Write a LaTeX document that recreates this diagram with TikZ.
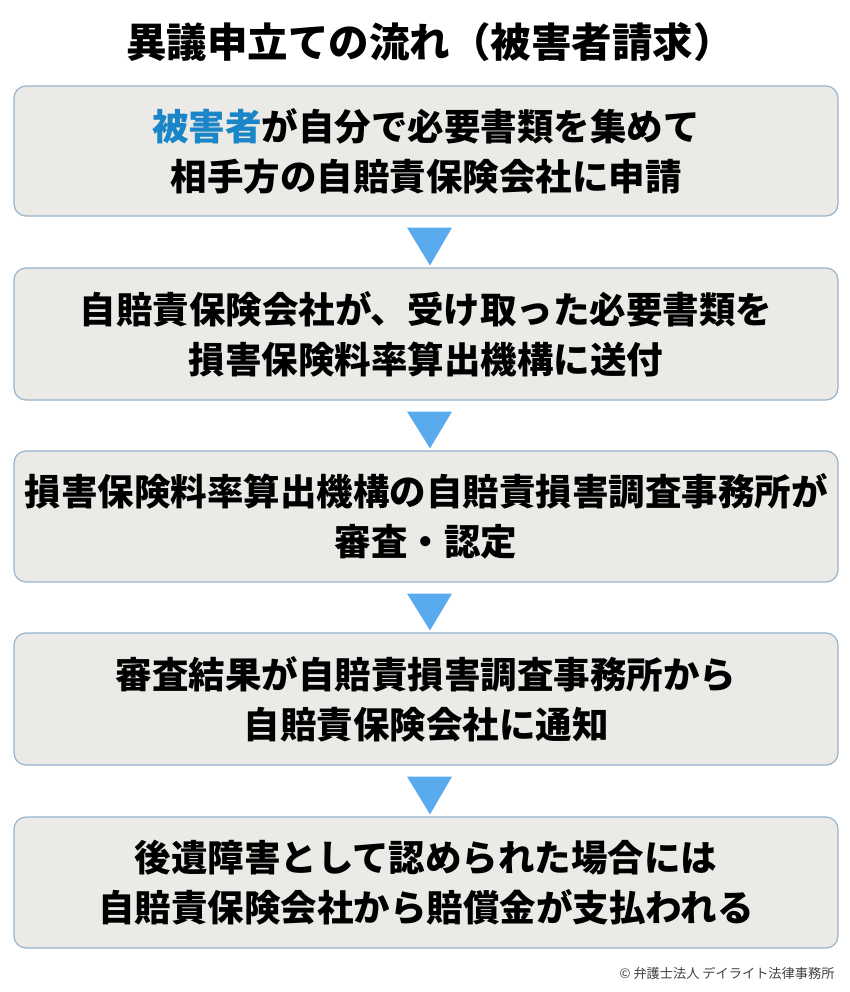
\documentclass[tikz,border=0pt]{standalone}
\usepackage{fontspec}
\setmainfont{Noto Sans CJK JP}
\usetikzlibrary{calc}
\definecolor{boxfill}{HTML}{EBEAE6}
\definecolor{boxline}{HTML}{98B4CC}
\definecolor{arrowblue}{HTML}{5AAAEE}
\definecolor{keyblue}{HTML}{1A86C8}
\tikzset{
  stepbox/.style={rectangle,minimum width=824pt,rounded corners=12pt,draw=boxline,fill=boxfill,line width=1.2pt,align=center,inner sep=0pt,
    font=\fontsize{36.5}{50}\selectfont\bfseries},
  downtri/.style={fill=arrowblue}
}
\begin{document}
\begin{tikzpicture}[x=1pt,y=-1pt]
\useasboundingbox (0,0) rectangle (850,992);
\node[font=\fontsize{40.5}{42}\selectfont\bfseries] (title) at (430,42) {異議申立ての流れ（被害者請求）};

\node[stepbox,minimum height=130pt] (box1) at (426,151) {\textcolor{keyblue}{被害者}が自分で必要書類を集めて\\相手方の自賠責保険会社に申請};
\node[stepbox,minimum height=132pt] (box2) at (426,334) {自賠責保険会社が、受け取った必要書類を\\損害保険料率算出機構に送付};
\node[stepbox,minimum height=131pt] (box3) at (426,516.5) {損害保険料率算出機構の自賠責損害調査事務所が\\審査・認定};
\node[stepbox,minimum height=132pt] (box4) at (426,699) {審査結果が自賠責損害調査事務所から\\自賠責保険会社に通知};
\node[stepbox,minimum height=131pt] (box5) at (426,882.5) {後遺障害として認められた場合には\\自賠責保険会社から賠償金が支払われる};

% arrows between the steps
\foreach \a/\b in {box1/box2,box2/box3,box3/box4,box4/box5}{
  \fill[downtri] ($(\a.south)+(-19,11)$) -- ($(\a.south)+(26,11)$) -- ($(\b.north)+(4,-2)$) -- cycle;
}

\node[anchor=east,font=\fontsize{13.2}{15}\selectfont,text=black!75] (copy) at (838,973) {© 弁護士法人 デイライト法律事務所};
\end{tikzpicture}
\end{document}
